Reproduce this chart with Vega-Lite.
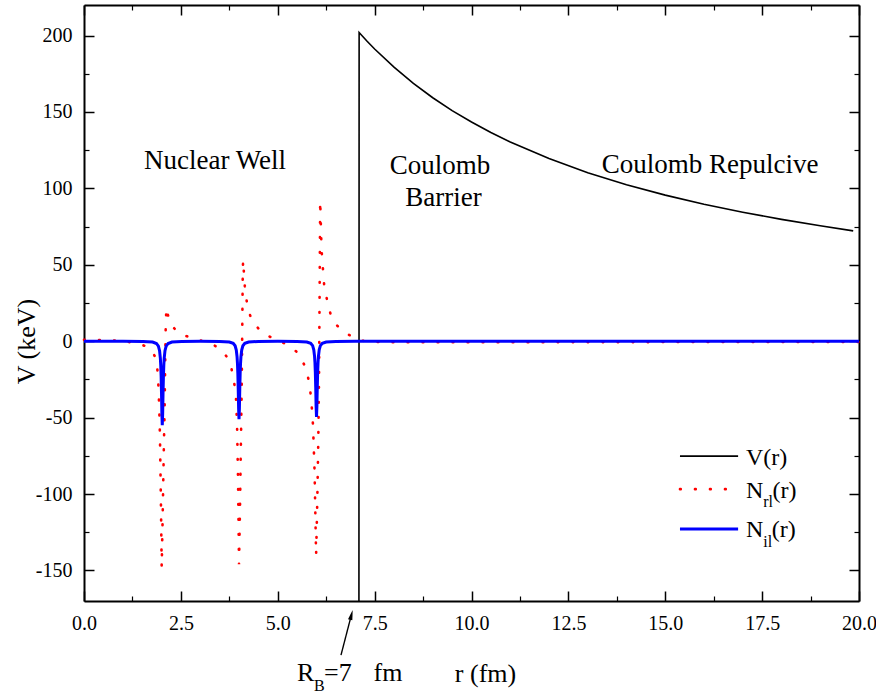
{
  "$schema": "https://vega.github.io/schema/vega-lite/v6.json",
  "width": 775,
  "height": 596,
  "autosize": {"type": "none"},
  "padding": {"left": 84, "top": 5, "right": 17, "bottom": 94},
  "background": "white",
  "config": {
    "font": "Liberation Serif",
    "view": {"stroke": null},
    "axis": {"grid": false, "domainColor": "black", "tickColor": "black", "labelColor": "black", "titleColor": "black", "domainWidth": 2, "labelFont": "Liberation Serif", "titleFont": "Liberation Serif", "titleFontWeight": "normal"}
  },
  "datasets": {
    "V": [
      {"r": 7.095, "v": -170}, {"r": 7.1, "v": 202}, {"r": 7.3, "v": 196.4}, {"r": 7.5, "v": 191.2}, {"r": 8, "v": 179.3}, {"r": 8.5, "v": 168.7}, {"r": 9, "v": 159.3}, {"r": 9.5, "v": 150.9}, {"r": 10, "v": 143.4}, {"r": 10.5, "v": 136.6}, {"r": 11, "v": 130.4}, {"r": 12, "v": 119.5}, {"r": 13, "v": 110.3}, {"r": 14, "v": 102.4}, {"r": 15, "v": 95.6}, {"r": 16, "v": 89.6}, {"r": 17, "v": 84.4}, {"r": 18, "v": 79.7}, {"r": 19, "v": 75.5}, {"r": 19.85, "v": 72.2}
    ],
    "Nrl": [
      {"r": 0.0, "v": 0.9}, {"r": 0.5, "v": 0.8}, {"r": 0.9, "v": 0.3}, {"r": 1.1, "v": -0.3}, {"r": 1.23, "v": -0.8}, {"r": 1.45, "v": -2.0}, {"r": 1.62, "v": -3.5}, {"r": 1.75, "v": -6.5}, {"r": 1.82, "v": -9.5}, {"r": 1.87, "v": -12.4}, {"r": 1.91, "v": -23}, {"r": 1.94, "v": -42}, {"r": 1.96, "v": -62}, {"r": 1.985, "v": -105}, {"r": 2.005, "v": -148}, {"r": 2.03, "v": -115}, {"r": 2.06, "v": -70}, {"r": 2.08, "v": -45}, {"r": 2.095, "v": -15}, {"r": 2.105, "v": 5}, {"r": 2.115, "v": 14}, {"r": 2.125, "v": 22}, {"r": 2.15, "v": 18.5}, {"r": 2.18, "v": 16}, {"r": 2.25, "v": 11}, {"r": 2.38, "v": 6.8}, {"r": 2.55, "v": 4}, {"r": 2.77, "v": 2.4}, {"r": 3.0, "v": 0.6}, {"r": 3.17, "v": -0.7}, {"r": 3.35, "v": -2.5}, {"r": 3.55, "v": -6}, {"r": 3.68, "v": -10}, {"r": 3.79, "v": -16}, {"r": 3.87, "v": -26}, {"r": 3.92, "v": -36}, {"r": 3.95, "v": -55}, {"r": 3.975, "v": -90}, {"r": 4.0, "v": -146}, {"r": 4.025, "v": -110}, {"r": 4.05, "v": -65}, {"r": 4.07, "v": -30}, {"r": 4.085, "v": 10}, {"r": 4.095, "v": 40}, {"r": 4.105, "v": 53}, {"r": 4.15, "v": 36}, {"r": 4.22, "v": 22}, {"r": 4.3, "v": 16}, {"r": 4.37, "v": 12}, {"r": 4.55, "v": 7}, {"r": 4.71, "v": 4}, {"r": 4.9, "v": 1.6}, {"r": 5.12, "v": -0.8}, {"r": 5.3, "v": -3}, {"r": 5.49, "v": -7}, {"r": 5.62, "v": -12}, {"r": 5.73, "v": -18}, {"r": 5.82, "v": -28}, {"r": 5.87, "v": -40}, {"r": 5.91, "v": -55}, {"r": 5.95, "v": -85}, {"r": 5.99, "v": -140}, {"r": 6.02, "v": -105}, {"r": 6.045, "v": -67}, {"r": 6.065, "v": -25}, {"r": 6.08, "v": 30}, {"r": 6.095, "v": 92}, {"r": 6.13, "v": 60}, {"r": 6.17, "v": 46}, {"r": 6.2, "v": 36}, {"r": 6.28, "v": 26}, {"r": 6.37, "v": 17}, {"r": 6.5, "v": 11}, {"r": 6.67, "v": 6.8}, {"r": 6.85, "v": 4}, {"r": 7.0, "v": 2.5}, {"r": 7.15, "v": 0.5}, {"r": 7.4, "v": -0.5}, {"r": 8, "v": -0.7}, {"r": 10, "v": -0.7}, {"r": 12, "v": -0.6}, {"r": 14, "v": -0.6}, {"r": 16, "v": -0.5}, {"r": 18, "v": -0.5}, {"r": 20, "v": -0.5}
    ],
    "Nil": [
      {"r": 0, "v": 0}, {"r": 1.0, "v": -0.05}, {"r": 1.52, "v": -0.14}, {"r": 1.77, "v": -0.54}, {"r": 1.87, "v": -1.49}, {"r": 1.92, "v": -3.23}, {"r": 1.95, "v": -6.2}, {"r": 1.97, "v": -11}, {"r": 1.98, "v": -15.5}, {"r": 1.99, "v": -22.6}, {"r": 2.0, "v": -33.6}, {"r": 2.01, "v": -47.4}, {"r": 2.02, "v": -55}, {"r": 2.03, "v": -47.4}, {"r": 2.04, "v": -33.6}, {"r": 2.05, "v": -22.6}, {"r": 2.06, "v": -15.5}, {"r": 2.07, "v": -11}, {"r": 2.09, "v": -6.2}, {"r": 2.12, "v": -3.23}, {"r": 2.17, "v": -1.49}, {"r": 2.27, "v": -0.54}, {"r": 2.52, "v": -0.14}, {"r": 3.0, "v": -0.05},
      {"r": 3.5, "v": -0.13}, {"r": 3.75, "v": -0.5}, {"r": 3.85, "v": -1.38}, {"r": 3.9, "v": -3.0}, {"r": 3.93, "v": -5.8}, {"r": 3.95, "v": -10.2}, {"r": 3.96, "v": -14.3}, {"r": 3.97, "v": -20.9}, {"r": 3.98, "v": -31.1}, {"r": 3.99, "v": -44}, {"r": 4.0, "v": -51}, {"r": 4.01, "v": -44}, {"r": 4.02, "v": -31.1}, {"r": 4.03, "v": -20.9}, {"r": 4.04, "v": -14.3}, {"r": 4.05, "v": -10.2}, {"r": 4.07, "v": -5.8}, {"r": 4.1, "v": -3.0}, {"r": 4.15, "v": -1.38}, {"r": 4.25, "v": -0.5}, {"r": 4.5, "v": -0.13}, {"r": 5.0, "v": -0.05},
      {"r": 5.5, "v": -0.12}, {"r": 5.75, "v": -0.49}, {"r": 5.85, "v": -1.34}, {"r": 5.9, "v": -2.91}, {"r": 5.93, "v": -5.6}, {"r": 5.95, "v": -9.9}, {"r": 5.96, "v": -13.9}, {"r": 5.97, "v": -20.3}, {"r": 5.98, "v": -30.2}, {"r": 5.99, "v": -42.7}, {"r": 6.0, "v": -49.5}, {"r": 6.01, "v": -42.7}, {"r": 6.02, "v": -30.2}, {"r": 6.03, "v": -20.3}, {"r": 6.04, "v": -13.9}, {"r": 6.05, "v": -9.9}, {"r": 6.07, "v": -5.6}, {"r": 6.1, "v": -2.91}, {"r": 6.15, "v": -1.34}, {"r": 6.25, "v": -0.49}, {"r": 6.5, "v": -0.12}, {"r": 7.0, "v": -0.05}, {"r": 10, "v": 0}, {"r": 15, "v": 0}, {"r": 20, "v": 0}
    ],
    "notes": [
      {"r": 3.381, "v": 112.7, "t": "Nuclear Well"},
      {"r": 9.187, "v": 109.4, "t": "Coulomb"},
      {"r": 9.277, "v": 88.5, "t": "Barrier"},
      {"r": 16.155, "v": 110.05, "t": "Coulomb Repulcive"}
    ],
    "legV": [{"r": 15.38, "r2": 16.88, "v": -75.2}],
    "legNrl": [{"r": 15.38, "r2": 16.88, "v": -96.8}],
    "legNil": [{"r": 15.38, "r2": 16.88, "v": -122.9}],
    "legText": [
      {"r": 17.084, "v": -81.0, "t": "V(r)"},
      {"r": 17.084, "v": -102.6, "t": "N"},
      {"r": 17.77, "v": -102.6, "t": "(r)"},
      {"r": 17.084, "v": -128.2, "t": "N"},
      {"r": 17.75, "v": -128.2, "t": "(r)"}
    ],
    "legSub": [
      {"r": 17.53, "v": -108.5, "t": "rl"},
      {"r": 17.53, "v": -134.5, "t": "il"}
    ],
    "rbText": [
      {"r": 5.497, "v": -222.4, "t": "R"},
      {"r": 6.193, "v": -222.4, "t": "=7"},
      {"r": 7.471, "v": -222.4, "t": "fm"}
    ],
    "rbSub": [{"r": 5.935, "v": -228.6, "t": "B"}],
    "arrow": [{"r": 6.632, "v": -205.4}, {"r": 6.901, "v": -179.1}],
    "arrowHead": [{"r": 6.901, "v": -179.1}]
  },
  "resolve": {"axis": {"x": "independent", "y": "independent"}},
  "layer": [
    {
      "data": {"name": "V"},
      "mark": {"type": "line", "color": "black", "strokeWidth": 1.6},
      "encoding": {
        "x": {"field": "r", "type": "quantitative", "scale": {"domain": [0, 20], "nice": false, "zero": false},
          "axis": {"orient": "bottom", "values": [0, 2.5, 5, 7.5, 10, 12.5, 15, 17.5, 20], "format": ".1f", "tickSize": -10, "tickWidth": 1.5, "labelFontSize": 20, "labelPadding": 22, "labelFlush": false, "labelOverlap": false, "labelBound": false, "domain": true, "title": "r (fm)", "titleFontSize": 26, "titleX": 401, "titleY": 80, "titleAlign": "center", "titleBaseline": "alphabetic", "titleAngle": 0}},
        "y": {"field": "v", "type": "quantitative", "scale": {"domain": [-170, 220], "nice": false, "zero": false},
          "axis": {"orient": "left", "values": [-150, -100, -50, 0, 50, 100, 150, 200], "labelExpr": "datum.value < 0 ? '-' + format(-datum.value, 'd') : format(datum.value, 'd')", "tickSize": -10, "tickWidth": 1.5, "labelFontSize": 20, "labelPadding": 22, "labelFlush": false, "labelOverlap": false, "labelBound": false, "domain": true, "title": "V (keV)", "titleFontSize": 26, "titleAngle": 270, "titleX": -58, "titleY": 336, "titleAlign": "center", "titleBaseline": "middle"}}
      }
    },
    {
      "data": {"name": "Nrl"},
      "mark": {"type": "line", "color": "#ff0000", "strokeWidth": 2.6, "strokeDash": [0.8, 14.2], "strokeCap": "round"},
      "encoding": {
        "x": {"field": "r", "type": "quantitative", "scale": {"domain": [0, 20], "nice": false, "zero": false},
          "axis": {"orient": "bottom", "values": [1.25, 3.75, 6.25, 8.75, 11.25, 13.75, 16.25, 18.75], "tickSize": -5, "tickWidth": 1.2, "labels": false, "domain": false, "title": null}},
        "y": {"field": "v", "type": "quantitative", "scale": {"domain": [-170, 220], "nice": false, "zero": false},
          "axis": {"orient": "left", "values": [-125, -75, -25, 25, 75, 125, 175], "tickSize": -5, "tickWidth": 1.2, "labels": false, "domain": false, "title": null}}
      }
    },
    {
      "data": {"name": "Nil"},
      "mark": {"type": "line", "color": "#0000ff", "strokeWidth": 3},
      "encoding": {
        "x": {"field": "r", "type": "quantitative", "scale": {"domain": [0, 20], "nice": false, "zero": false},
          "axis": {"orient": "top", "values": [0, 2.5, 5, 7.5, 10, 12.5, 15, 17.5, 20], "tickSize": -10, "tickWidth": 1.5, "labels": false, "domain": true, "title": null}},
        "y": {"field": "v", "type": "quantitative", "scale": {"domain": [-170, 220], "nice": false, "zero": false},
          "axis": {"orient": "right", "values": [-150, -100, -50, 0, 50, 100, 150, 200], "tickSize": -10, "tickWidth": 1.5, "labels": false, "domain": true, "title": null}}
      }
    },
    {
      "data": {"name": "notes"},
      "mark": {"type": "text", "fontSize": 27, "align": "center", "baseline": "alphabetic", "color": "black"},
      "encoding": {
        "x": {"field": "r", "type": "quantitative", "scale": {"domain": [0, 20], "nice": false, "zero": false},
          "axis": {"orient": "top", "values": [1.25, 3.75, 6.25, 8.75, 11.25, 13.75, 16.25, 18.75], "tickSize": -5, "tickWidth": 1.2, "labels": false, "domain": false, "title": null}},
        "y": {"field": "v", "type": "quantitative", "scale": {"domain": [-170, 220], "nice": false, "zero": false},
          "axis": {"orient": "right", "values": [-125, -75, -25, 25, 75, 125, 175], "tickSize": -5, "tickWidth": 1.2, "labels": false, "domain": false, "title": null}},
        "text": {"field": "t"}
      }
    },
    {
      "data": {"name": "legV"},
      "mark": {"type": "rule", "color": "black", "strokeWidth": 1.6},
      "encoding": {
        "x": {"field": "r", "type": "quantitative", "scale": {"domain": [0, 20], "nice": false, "zero": false}, "axis": null},
        "x2": {"field": "r2"},
        "y": {"field": "v", "type": "quantitative", "scale": {"domain": [-170, 220], "nice": false, "zero": false}, "axis": null}
      }
    },
    {
      "data": {"name": "legNrl"},
      "mark": {"type": "rule", "color": "#ff0000", "strokeWidth": 2.6, "strokeDash": [0.8, 14.2], "strokeCap": "round"},
      "encoding": {
        "x": {"field": "r", "type": "quantitative", "scale": {"domain": [0, 20], "nice": false, "zero": false}, "axis": null},
        "x2": {"field": "r2"},
        "y": {"field": "v", "type": "quantitative", "scale": {"domain": [-170, 220], "nice": false, "zero": false}, "axis": null}
      }
    },
    {
      "data": {"name": "legNil"},
      "mark": {"type": "rule", "color": "#0000ff", "strokeWidth": 3},
      "encoding": {
        "x": {"field": "r", "type": "quantitative", "scale": {"domain": [0, 20], "nice": false, "zero": false}, "axis": null},
        "x2": {"field": "r2"},
        "y": {"field": "v", "type": "quantitative", "scale": {"domain": [-170, 220], "nice": false, "zero": false}, "axis": null}
      }
    },
    {
      "data": {"name": "legText"},
      "mark": {"type": "text", "fontSize": 24, "align": "left", "baseline": "alphabetic", "color": "black"},
      "encoding": {
        "x": {"field": "r", "type": "quantitative", "scale": {"domain": [0, 20], "nice": false, "zero": false}, "axis": null},
        "y": {"field": "v", "type": "quantitative", "scale": {"domain": [-170, 220], "nice": false, "zero": false}, "axis": null},
        "text": {"field": "t"}
      }
    },
    {
      "data": {"name": "legSub"},
      "mark": {"type": "text", "fontSize": 16, "align": "left", "baseline": "alphabetic", "color": "black"},
      "encoding": {
        "x": {"field": "r", "type": "quantitative", "scale": {"domain": [0, 20], "nice": false, "zero": false}, "axis": null},
        "y": {"field": "v", "type": "quantitative", "scale": {"domain": [-170, 220], "nice": false, "zero": false}, "axis": null},
        "text": {"field": "t"}
      }
    },
    {
      "data": {"name": "rbText"},
      "mark": {"type": "text", "fontSize": 26, "align": "left", "baseline": "alphabetic", "color": "black"},
      "encoding": {
        "x": {"field": "r", "type": "quantitative", "scale": {"domain": [0, 20], "nice": false, "zero": false}, "axis": null},
        "y": {"field": "v", "type": "quantitative", "scale": {"domain": [-170, 220], "nice": false, "zero": false}, "axis": null},
        "text": {"field": "t"}
      }
    },
    {
      "data": {"name": "rbSub"},
      "mark": {"type": "text", "fontSize": 16, "align": "left", "baseline": "alphabetic", "color": "black"},
      "encoding": {
        "x": {"field": "r", "type": "quantitative", "scale": {"domain": [0, 20], "nice": false, "zero": false}, "axis": null},
        "y": {"field": "v", "type": "quantitative", "scale": {"domain": [-170, 220], "nice": false, "zero": false}, "axis": null},
        "text": {"field": "t"}
      }
    },
    {
      "data": {"name": "arrow"},
      "mark": {"type": "line", "color": "black", "strokeWidth": 1.4},
      "encoding": {
        "x": {"field": "r", "type": "quantitative", "scale": {"domain": [0, 20], "nice": false, "zero": false}, "axis": null},
        "y": {"field": "v", "type": "quantitative", "scale": {"domain": [-170, 220], "nice": false, "zero": false}, "axis": null}
      }
    },
    {
      "data": {"name": "arrowHead"},
      "mark": {"type": "point", "shape": "M0,-1L0.45,1L-0.45,1Z", "filled": true, "color": "black", "opacity": 1, "size": 100, "angle": 14.6},
      "encoding": {
        "x": {"field": "r", "type": "quantitative", "scale": {"domain": [0, 20], "nice": false, "zero": false}, "axis": null},
        "y": {"field": "v", "type": "quantitative", "scale": {"domain": [-170, 220], "nice": false, "zero": false}, "axis": null}
      }
    }
  ]
}
